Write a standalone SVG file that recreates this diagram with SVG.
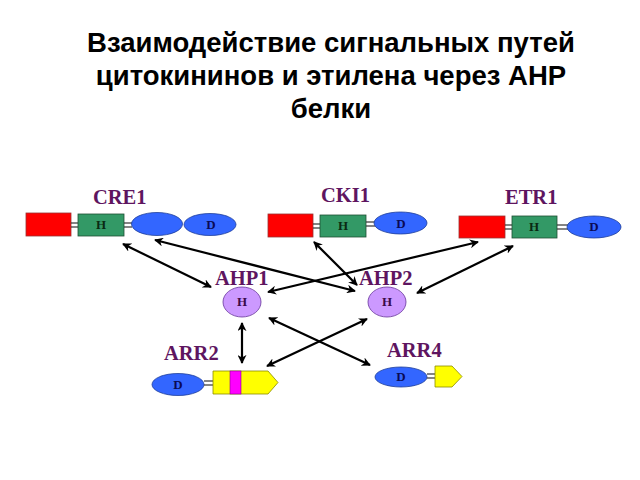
<svg xmlns="http://www.w3.org/2000/svg" width="640" height="480" viewBox="0 0 640 480">
<defs>
<marker id="ah" viewBox="0 0 10 10" refX="9" refY="5" markerWidth="9" markerHeight="9" markerUnits="userSpaceOnUse" orient="auto-start-reverse">
<path d="M0,0 L10,5 L0,10 L3,5 z" fill="#000"/>
</marker>
</defs>
<style>
.title{font-family:"Liberation Sans",Arial,sans-serif;font-weight:bold;font-size:27.5px;fill:#000;text-anchor:middle}
.lbl{font-family:"Liberation Serif","Times New Roman",serif;font-weight:bold;font-size:20.5px;fill:#5e1560}
.sm{font-family:"Liberation Serif","Times New Roman",serif;font-weight:bold;font-size:13px;text-anchor:middle}
.red{fill:#ff0000;stroke:#993333;stroke-width:0.8}
.grn{fill:#339966;stroke:#1f4f33;stroke-width:0.8}
.blu{fill:#3366ff;stroke:#1f3f99;stroke-width:0.8}
.lil{fill:#cc99ff;stroke:#663399;stroke-width:0.8}
.yel{fill:#ffff00;stroke:#8a8a00;stroke-width:0.8}
.dbl{stroke:#333;stroke-width:1.2}
.arr{stroke:#000;stroke-width:2.2;fill:none;marker-start:url(#ah);marker-end:url(#ah)}
</style>
<rect width="640" height="480" fill="#fff"/>
<g id="title">
<text class="title" x="331" y="52">Взаимодействие сигнальных путей</text>
<text class="title" x="331" y="85">цитокининов и этилена через АНР</text>
<text class="title" x="331" y="118">белки</text>
</g>
<g id="CRE1">
<text class="lbl" x="93" y="204">CRE1</text>
<rect class="red" x="26" y="213" width="45" height="23"/>
<line class="dbl" x1="71" y1="223" x2="78" y2="223"/><line class="dbl" x1="71" y1="227" x2="78" y2="227"/>
<rect class="grn" x="78" y="214" width="46" height="22"/>
<text class="sm" x="101" y="229" fill="#0a2a12">H</text>
<line class="dbl" x1="124" y1="223" x2="132" y2="223"/><line class="dbl" x1="124" y1="227" x2="132" y2="227"/>
<ellipse class="blu" cx="157" cy="224" rx="25.5" ry="11.5"/>
<ellipse class="blu" cx="210" cy="224.5" rx="26" ry="11"/>
<text class="sm" x="211" y="229" fill="#0a0a55">D</text>
</g>
<g id="CKI1">
<text class="lbl" x="321" y="202">CKI1</text>
<rect class="red" x="268" y="214" width="45" height="23"/>
<line class="dbl" x1="313" y1="224" x2="320" y2="224"/><line class="dbl" x1="313" y1="228" x2="320" y2="228"/>
<rect class="grn" x="320" y="215" width="46" height="22"/>
<text class="sm" x="343" y="230" fill="#0a2a12">H</text>
<line class="dbl" x1="366" y1="222" x2="375" y2="222"/><line class="dbl" x1="366" y1="226" x2="375" y2="226"/>
<ellipse class="blu" cx="400.5" cy="223" rx="26.5" ry="11"/>
<text class="sm" x="401" y="228" fill="#0a0a55">D</text>
</g>
<g id="ETR1">
<text class="lbl" x="505" y="204">ETR1</text>
<rect class="red" x="459" y="216" width="46" height="22"/>
<line class="dbl" x1="505" y1="225" x2="512" y2="225"/><line class="dbl" x1="505" y1="229" x2="512" y2="229"/>
<rect class="grn" x="512" y="216" width="45" height="22"/>
<text class="sm" x="534" y="231" fill="#0a2a12">H</text>
<line class="dbl" x1="557" y1="225" x2="568" y2="225"/><line class="dbl" x1="557" y1="229" x2="568" y2="229"/>
<ellipse class="blu" cx="594" cy="227" rx="27" ry="11"/>
<text class="sm" x="594" y="231" fill="#0a0a55">D</text>
</g>
<g id="AHP1">
<text class="lbl" x="215" y="285">AHP1</text>
<ellipse class="lil" cx="242" cy="302" rx="19" ry="15"/>
<text class="sm" x="242" y="306" fill="#3a0a4a">H</text>
</g>
<g id="AHP2">
<text class="lbl" x="359" y="285">AHP2</text>
<ellipse class="lil" cx="387" cy="302" rx="19" ry="15"/>
<text class="sm" x="387" y="306" fill="#3a0a4a">H</text>
</g>
<g id="ARR2">
<text class="lbl" x="164" y="360">ARR2</text>
<ellipse class="blu" cx="178" cy="384.5" rx="26" ry="11"/>
<text class="sm" x="178" y="389" fill="#0a0a55">D</text>
<line class="dbl" x1="204" y1="381" x2="213" y2="381"/><line class="dbl" x1="204" y1="385" x2="213" y2="385"/>
<polygon class="yel" points="213,371 268,371 278,382.5 268,394 213,394"/>
<rect x="230" y="371" width="11" height="23" fill="#ff00ff" stroke="#8a008a" stroke-width="0.6"/>
</g>
<g id="ARR4">
<text class="lbl" x="387" y="357">ARR4</text>
<ellipse class="blu" cx="401" cy="377" rx="26" ry="10"/>
<text class="sm" x="401" y="381" fill="#0a0a55">D</text>
<line class="dbl" x1="427" y1="374" x2="435" y2="374"/><line class="dbl" x1="427" y1="378" x2="435" y2="378"/>
<polygon class="yel" points="435,366 452,366 462,376.5 452,387 435,387"/>
</g>
<g id="connectors">
<line class="arr" x1="123" y1="244" x2="211" y2="287"/>
<line class="arr" x1="155" y1="240" x2="355" y2="291"/>
<line class="arr" x1="314" y1="242" x2="357" y2="285"/>
<line class="arr" x1="478" y1="242" x2="268" y2="292"/>
<line class="arr" x1="513" y1="246" x2="417" y2="293"/>
<line class="arr" x1="242" y1="323" x2="242" y2="363"/>
<line class="arr" x1="269" y1="318" x2="370" y2="365"/>
<line class="arr" x1="367" y1="319" x2="267" y2="366"/>
</g>
</svg>
